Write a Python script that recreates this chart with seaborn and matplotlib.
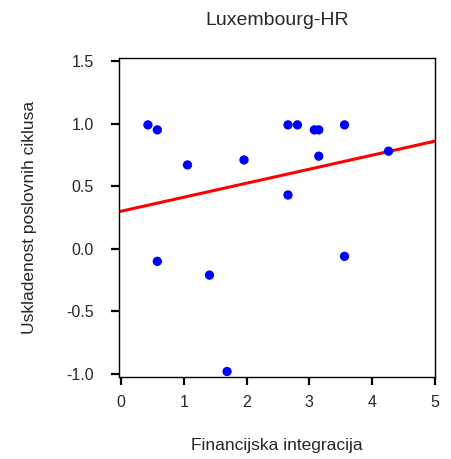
import matplotlib
matplotlib.use("Agg")
import matplotlib.pyplot as plt
import seaborn as sns
import pandas as pd

# Financial integration vs. business-cycle synchronisation, Luxembourg-HR
integration = [0.43, 0.58, 1.06, 1.96, 2.66, 2.81, 3.08, 3.15, 3.15, 3.56,
               4.26, 2.66, 0.58, 1.41, 3.56, 1.69]
synchronisation = [0.99, 0.95, 0.67, 0.71, 0.99, 0.99, 0.95, 0.95, 0.74, 0.99,
                   0.78, 0.43, -0.10, -0.21, -0.06, -0.98]

# Linear trend line
fit_intercept = 0.30
fit_slope = 0.112

x_ticks = [0, 1, 2, 3, 4, 5]
y_ticks = [-1.0, -0.5, 0.0, 0.5, 1.0, 1.5]
y_tick_labels = ["-1.0", "-0.5", "0.0", "0.5", "1.0", "1.5"]

sns.set_theme(style="white")
plt.rcParams["font.family"] = ["Liberation Sans", "DejaVu Sans"]
text_color = "#26262e"

df = pd.DataFrame({"x": integration, "y": synchronisation})

fig = plt.figure(figsize=(4.51, 4.59), dpi=100)
ax = fig.add_axes([0.2639, 0.1786, 0.7006, 0.6950])

sns.scatterplot(data=df, x="x", y="y", ax=ax, color="#0000ff", s=45,
                edgecolor="none", zorder=3)
ax.axline((0, fit_intercept), slope=fit_slope, color="#ff0000", lw=2.2, zorder=2)

ax.set_xlim(-0.03, 5.0)
ax.set_ylim(-1.024, 1.524)
ax.set_xticks(x_ticks)
ax.set_xticklabels([str(t) for t in x_ticks])
ax.set_yticks(y_ticks)
ax.set_yticklabels(y_tick_labels)

for side in ["left", "right", "top", "bottom"]:
    ax.spines[side].set_visible(True)
    ax.spines[side].set_color("black")
    ax.spines[side].set_linewidth(1.0)

ax.tick_params(axis="both", which="major", direction="out", length=6, width=1.6,
               color="black", labelsize=11.5, labelcolor=text_color,
               bottom=True, left=True)
ax.tick_params(axis="y", pad=12)
ax.tick_params(axis="x", pad=7)

ax.set_xlabel("Financijska integracija", fontsize=12.5, color=text_color, labelpad=20)
ax.set_ylabel("Uskladenost poslovnih ciklusa", fontsize=12.5, color=text_color, labelpad=21)
ax.set_title("Luxembourg-HR", fontsize=14, color=text_color, pad=24)

fig.savefig("out.png", dpi=100)
